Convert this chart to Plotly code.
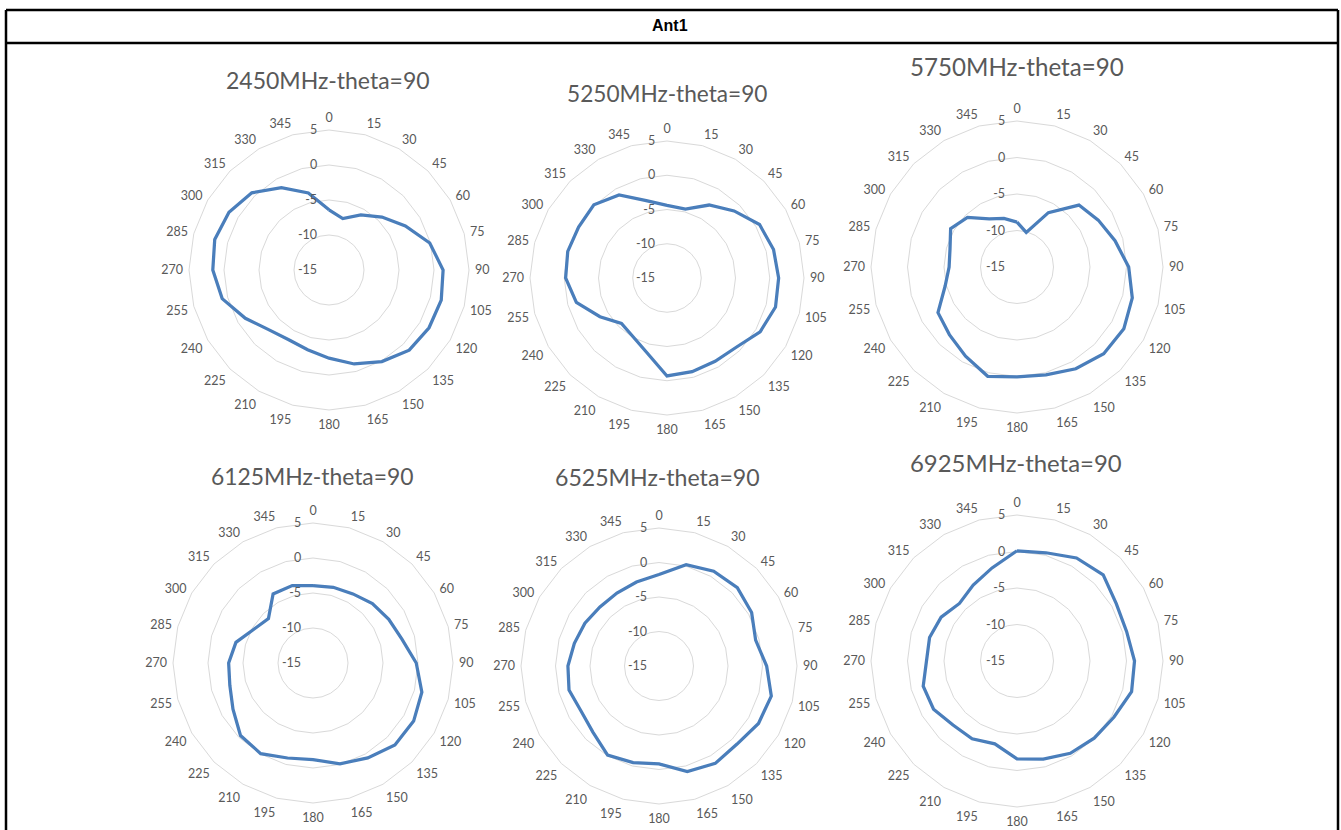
import plotly.graph_objects as go

# ---- data ----
angles = [str(a) for a in range(0, 360, 15)]
radial_ticks = [5, 0, -5, -10, -15]
radial_labels = ["5", "0", "-5", "-10", "-15"]
header_text = "Ant1"
titles = ["2450MHz-theta=90", "5250MHz-theta=90", "5750MHz-theta=90",
          "6125MHz-theta=90", "6525MHz-theta=90", "6925MHz-theta=90"]

gain_2450 = [-6.4, -7.4, -5.9, -4.3, -2.4, -0.1, 1.3, 1.6, 1.5, 1.2, 0.1, -1.1,
             -2.4, -3.2, -3.5, -2.9, -1.2, 0.8, 1.6, 1.9, 1.5, 0.6, -1.4, -3.6]
gain_5250 = [-4.4, -4.6, -2.7, -1.15, 0.6, 1.1, 1.3, 1.4, 0.7, -0.7, -0.95, -0.85,
             -0.7, -3.7, -5.1, -5.6, -3.7, -1.3, -0.2, 0.0, -0.1, 0.1, -1.0, -3.3]
gain_5750 = [-8.85, -10.1, -6.4, -3.0, -2.15, -1.1, 0.3, 1.35, 1.9, 1.8, 1.1, 0.3,
             0.05, 0.5, -0.9, -1.9, -2.5, -4.8, -5.7, -5.5, -4.5, -5.4, -7.4, -8.1]
gain_6125 = [-3.95, -3.8, -3.6, -3.0, -2.5, -1.85, -0.25, 1.1, 1.6, 1.55, 0.65, -0.1,
             -1.2, -0.95, -0.05, -0.35, -1.8, -2.7, -2.95, -3.6, -5.3, -6.0, -3.6, -3.55]
gain_6525 = [-1.75, 0.2, 0.85, 1.05, 0.5, -0.5, 0.6, 1.85, 1.65, 1.0, 1.3, 0.85,
             -0.8, -0.5, -0.1, -1.45, -1.95, -1.5, -1.8, -2.3, -2.6, -2.9, -2.8, -2.4]
gain_6925 = [0.1, 0.35, 1.3, 1.7, 0.7, 0.55, 1.1, 1.25, 0.35, -0.05, -0.4, -1.1,
             -1.6, -3.25, -2.7, -2.6, -1.8, -1.7, -2.6, -2.6, -3.0, -3.85, -3.0, -1.8]

series = [gain_2450, gain_5250, gain_5750, gain_6125, gain_6525, gain_6925]

# ---- layout (pixels) ----
W, H = 1341, 830
# polar centre x, centre y, radius
polar_px = [(329, 270, 140), (667, 278, 137), (1017, 267, 146),
            (313, 663, 140), (659, 666, 138), (1017, 661, 146)]
title_px = [(328, 80, 200), (667, 93, 197), (1017, 66, 210),
            (312, 476, 199), (657, 477, 201), (1016, 462, 208)]

LINE = "#4A7EBB"
GRID = "#D9D9D9"
TXT = "#595959"
FONT = "Lato"
CLEAR = "rgba(0,0,0,0)"

fig = go.Figure()
layout = dict(width=W, height=H, margin=dict(l=0, r=0, t=0, b=0),
              paper_bgcolor="white", showlegend=False)

for i, (vals, (cx, cy, R)) in enumerate(zip(series, polar_px)):
    key = "polar" if i == 0 else f"polar{i+1}"
    fig.add_trace(go.Scatterpolar(
        r=vals + vals[:1], theta=angles + angles[:1], mode="lines",
        line=dict(color=LINE, width=3.25), subplot=key, hoverinfo="skip"))
    layout[key] = dict(
        domain=dict(x=[(cx - R) / W, (cx + R) / W],
                    y=[1 - (cy + R) / H, 1 - (cy - R) / H]),
        bgcolor="white",
        gridshape="linear",
        angularaxis=dict(type="category", rotation=90, direction="clockwise",
                         showgrid=False, showline=True, linecolor=GRID, linewidth=1,
                         ticks="outside", ticklen=3, tickcolor=CLEAR,
                         tickfont=dict(family=FONT, size=12.5, color=TXT)),
        radialaxis=dict(range=[-15, 5], tickvals=radial_ticks, ticktext=radial_labels,
                        angle=90, tickangle=90, side="counterclockwise",
                        showgrid=True, gridcolor=GRID, gridwidth=1,
                        showline=False, ticks="outside", ticklen=7, tickcolor=CLEAR,
                        tickfont=dict(family=FONT, size=12.5, color=TXT)),
    )

annotations = [dict(text=f"<b>{header_text}</b>", x=670 / W, y=1 - 26 / H,
                    xref="paper", yref="paper", showarrow=False,
                    xanchor="center", yanchor="middle",
                    font=dict(family="Liberation Sans", size=16, color="black"))]
for t, (tx, ty, tw) in zip(titles, title_px):
    annotations.append(dict(text=t, x=tx / W, y=1 - ty / H, xref="paper", yref="paper",
                            showarrow=False, xanchor="center", yanchor="middle",
                            font=dict(family=FONT, size=23 * tw / 200, color=TXT)))
layout["annotations"] = annotations

lw = 2.5
shapes = [
    dict(type="line", xref="paper", yref="paper", x0=6 / W, x1=1338 / W, y0=1 - 10 / H, y1=1 - 10 / H, line=dict(color="black", width=lw)),
    dict(type="line", xref="paper", yref="paper", x0=6 / W, x1=1338 / W, y0=1 - 43 / H, y1=1 - 43 / H, line=dict(color="black", width=lw)),
    dict(type="line", xref="paper", yref="paper", x0=6 / W, x1=6 / W, y0=1 - 10 / H, y1=0, line=dict(color="black", width=lw)),
    dict(type="line", xref="paper", yref="paper", x0=1338 / W, x1=1338 / W, y0=1 - 10 / H, y1=0, line=dict(color="black", width=lw)),
]
layout["shapes"] = shapes
fig.update_layout(**layout)
fig.write_html("out.html", config={"displayModeBar": False},
               post_script="document.body.style.margin='0px';")
